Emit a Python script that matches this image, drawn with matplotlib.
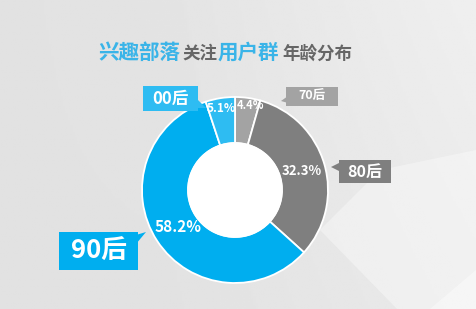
import numpy as np
import matplotlib.pyplot as plt
from matplotlib.patches import Polygon

plt.rcParams['font.family'] = ['Noto Sans CJK SC', 'DejaVu Sans']

# data (clockwise from 12 o'clock)
groups = ["70后", "80后", "90后", "00后"]
shares = [4.4, 32.3, 58.2, 5.1]
colors = ["#a3a3a3", "#7f7f7f", "#00aeef", "#2ebcf2"]

W, H = 476, 309
fig = plt.figure(figsize=(W / 100, H / 100), dpi=100)
ax = fig.add_axes([0, 0, 1, 1])
ax.set_xlim(0, W)
ax.set_ylim(0, H)
ax.set_aspect('equal')
ax.axis('off')

# background: soft grey gradient with lighter facets at lower right
xx, yy = np.meshgrid(np.linspace(0, 1, 200), np.linspace(0, 1, 130))
bg = 0.885 + 0.05 * np.clip(xx - 0.35, 0, 1) + 0.02 * (1 - yy) * xx
ax.imshow(bg, cmap='gray', vmin=0, vmax=1, extent=[0, W, 0, H], origin='upper', zorder=0)
ax.add_patch(Polygon([(320, H - 230), (397, 0), (W, 0), (W, H - 150), (380, H - 170)],
                     closed=True, color='white', alpha=0.35, lw=0, zorder=0.5))
ax.add_patch(Polygon([(430, 0), (W, 0), (W, H - 270)], closed=True,
                     color='white', alpha=0.4, lw=0, zorder=0.5))

# donut
cx, cy = 235, H - 190
r_out, r_in = 93, 47
wedges, _ = ax.pie(shares, colors=colors, startangle=90, counterclock=False,
                   center=(cx, cy), radius=r_out,
                   wedgeprops=dict(width=r_out - r_in, edgecolor='white', linewidth=1.3))
ax.add_patch(plt.Circle((cx, cy), r_in, color='white', zorder=3))
ax.set_xlim(0, W)
ax.set_ylim(0, H)

# percent labels
label_r = [86, 69, 68, 83]
label_shift = [-2.5, 0, 0, 0]
label_size = [8, 9.5, 11, 8.5]
for w, v, rr, sh, fs in zip(wedges, shares, label_r, label_shift, label_size):
    mid = np.deg2rad((w.theta1 + w.theta2) / 2 + sh)
    ax.text(cx + rr * np.cos(mid), cy + rr * np.sin(mid), f"{v}%", color='white',
            fontsize=fs, fontweight='bold', ha='center', va='center', zorder=4)


# callout boxes
def callout(x0, y0, x1, y1, text, color, fs, tail):
    ax.add_patch(plt.Rectangle((x0, H - y1), x1 - x0, y1 - y0, color=color, lw=0, zorder=4))
    ax.add_patch(Polygon([(px, H - py) for px, py in tail], closed=True, color=color, lw=0, zorder=4))
    ax.text((x0 + x1) / 2, H - (y0 + y1) / 2, text, color='white', fontsize=fs,
            fontweight='bold', ha='center', va='center', zorder=5)


callout(143, 86, 198, 111, groups[3], colors[3], 12, [(196, 98), (206, 108), (196, 108)])
callout(286, 87, 338, 106, groups[0], colors[0], 9, [(288, 96), (281, 101), (288, 103)])
callout(339, 160, 391, 183, groups[1], colors[1], 11.5, [(341, 162), (331, 167), (341, 172)])
callout(59, 232, 138, 270, groups[2], colors[2], 18.5, [(136, 235), (146, 232), (136, 244)])

# title
title_parts = [("兴趣部落", "#3ab4e8", 14.8, 98), ("关注", "#666666", 12.6, 182),
               ("用户群", "#3ab4e8", 14.8, 218), ("年龄分布", "#666666", 12.6, 282)]
for txt, c, fs, x in title_parts:
    ax.text(x, H - 59, txt, color=c, fontsize=fs, fontweight='bold', ha='left', va='baseline')

fig.savefig("out.png", dpi=100)
